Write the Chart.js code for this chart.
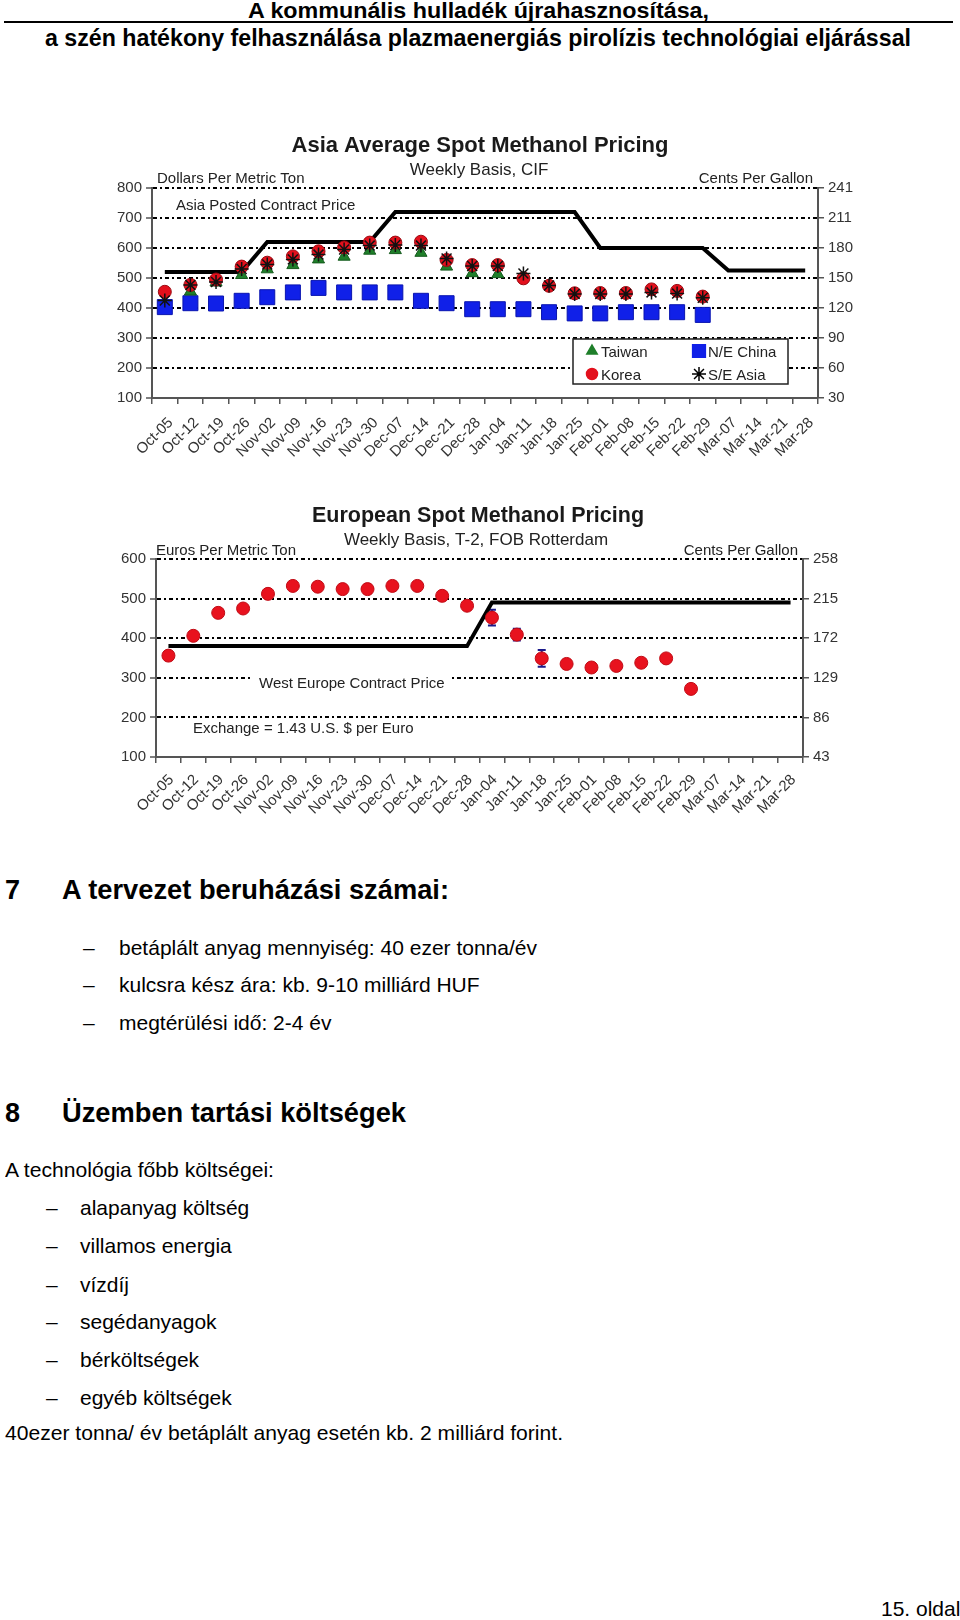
<!DOCTYPE html>
<html>
<head>
<meta charset="utf-8">
<script src="https://cdn.jsdelivr.net/npm/chart.js@4.4.0/dist/chart.umd.min.js"></script>
<style>
  body { margin: 0; width: 960px; height: 1620px; background: #fff; position: relative; overflow: hidden;
         font-family: "Liberation Sans", Arial, sans-serif; color: #000; }
  .t { position: absolute; white-space: nowrap; line-height: 1; transform-origin: 0 0; }
  .hd { font-weight: bold; font-size: 24px; }
  .h2 { font-weight: bold; font-size: 27px; }
  .p { font-size: 21px; }
  #rule { position: absolute; left: 4px; top: 21px; width: 949px; height: 2px; background: #000; }
  canvas { position: absolute; }
</style>
</head>
<body>
<div class="t hd" data-w="461" style="left:248px; top:0px; font-size:22px">A kommunális hulladék újrahasznosítása,</div>
<div id="rule"></div>
<div class="t hd" data-w="866" style="left:45px; top:26px">a szén hatékony felhasználása plazmaenergiás pirolízis technológiai eljárással</div>

<canvas id="asia" width="790" height="340" style="left:90px; top:120px"></canvas>
<canvas id="europe" width="790" height="340" style="left:90px; top:480px"></canvas>

<div class="t h2" style="left:5px; top:877px">7</div>
<div class="t h2" data-w="387" style="left:62px; top:877px">A tervezet beruházási számai:</div>
<div class="t p" style="left:83px; top:937px">–</div>
<div class="t p" data-w="418" style="left:119px; top:937px">betáplált anyag mennyiség: 40 ezer tonna/év</div>
<div class="t p" style="left:83px; top:974px">–</div>
<div class="t p" style="left:119px; top:974px">kulcsra kész ára: kb. 9-10 milliárd HUF</div>
<div class="t p" style="left:83px; top:1012px">–</div>
<div class="t p" style="left:119px; top:1012px">megtérülési idő: 2-4 év</div>

<div class="t h2" style="left:5px; top:1100px">8</div>
<div class="t h2" data-w="344" style="left:62px; top:1100px">Üzemben tartási költségek</div>
<div class="t p" data-w="269" style="left:5px; top:1159px">A technológia főbb költségei:</div>
<div class="t p" style="left:46px; top:1197px">–</div>
<div class="t p" style="left:80px; top:1197px">alapanyag költség</div>
<div class="t p" style="left:46px; top:1235px">–</div>
<div class="t p" style="left:80px; top:1235px">villamos energia</div>
<div class="t p" style="left:46px; top:1274px">–</div>
<div class="t p" style="left:80px; top:1274px">vízdíj</div>
<div class="t p" style="left:46px; top:1311px">–</div>
<div class="t p" style="left:80px; top:1311px">segédanyagok</div>
<div class="t p" style="left:46px; top:1349px">–</div>
<div class="t p" style="left:80px; top:1349px">bérköltségek</div>
<div class="t p" style="left:46px; top:1387px">–</div>
<div class="t p" style="left:80px; top:1387px">egyéb költségek</div>
<div class="t p" data-w="558" style="left:5px; top:1422px">40ezer tonna/ év betáplált anyag esetén kb. 2 milliárd forint.</div>
<div class="t p" style="left:881px; top:1598px">15. oldal</div>

<script>
const weeks = ["Oct-05", "Oct-12", "Oct-19", "Oct-26", "Nov-02", "Nov-09", "Nov-16", "Nov-23", "Nov-30",
    "Dec-07", "Dec-14", "Dec-21", "Dec-28", "Jan-04", "Jan-11", "Jan-18", "Jan-25", "Feb-01", "Feb-08",
    "Feb-15", "Feb-22", "Feb-29", "Mar-07", "Mar-14", "Mar-21", "Mar-28"]

// Asia, dollars per metric ton
const asiaContract = [520, 520, 520, 520, 620, 620, 620, 620, 620, 720, 720, 720, 720, 720, 720, 720, 720,
    600, 600, 600, 600, 600, 525, 525, 525, 525]
const taiwan = [null, 455, 485, 510, 529, 543, 562, 571, 591, 593, 584, 538, 516, 513, null, null, null,
    null, null, null, null, null, null, null, null, null]
const korea = [454, 477, 495, 538, 551, 572, 589, 602, 618, 618, 621, 560, 543, 543, 499, 474, 449, 450,
    450, 462, 457, 438, null, null, null, null]
const neChina = [403, 416, 415, 424, 436, 452, 467, 452, 452, 452, 424, 416, 396, 396, 396, 386, 382, 382,
    386, 386, 386, 377, null, null, null, null]
const seAsia = [425, 477, 487, 530, 545, 562, 578, 595, 608, 610, 608, 565, 540, 540, 515, 475, 447, 447,
    447, 452, 448, 434, null, null, null, null]
const asiaCents = ["30", "60", "90", "120", "150", "180", "211", "241"]

// Europe, euros per metric ton
const euroContract = [380, 380, 380, 380, 380, 380, 380, 380, 380, 380, 380, 380, 380, 490, 490, 490, 490,
    490, 490, 490, 490, 490, 490, 490, 490, 490]
const euroSpot = [356, 406, 464, 475, 512, 532, 530, 524, 524, 532, 532, 507, 482, 452, 409, 349, 335, 326,
    330, 338, 349, 272, null, null, null, null]
const euroError = [0, 0, 0, 0, 0, 0, 0, 0, 0, 0, 0, 0, 0, 20, 15, 21, 0, 0, 0, 0, 0, 0, 0, 0, 0, 0]
const euroCents = ["43", "86", "129", "172", "215", "258"]

Chart.defaults.font.family = '"Liberation Sans", Arial, sans-serif'
Chart.defaults.color = "#333"

function makeScales(min, max, cents, leftW, rightW, bottomH, labelPad, labelShift) {
    return {
        x: {
            offset: true,
            grid: { offset: true, drawOnChartArea: false, tickLength: 6, color: "#555", lineWidth: 1.5 },
            border: { color: "#555", width: 2 },
            ticks: { autoSkip: false, maxRotation: 45, minRotation: 45, font: { size: 15 },
                padding: labelPad, labelOffset: labelShift },
            afterFit: (s) => { s.height = bottomH }
        },
        y: {
            position: "left", min: min, max: max,
            ticks: { stepSize: 100, font: { size: 15 }, padding: 4 },
            grid: {
                color: (c) => (c.tick && c.tick.value === min ? "rgba(0,0,0,0)" : "#000"),
                lineWidth: 2, tickLength: 6, tickColor: "#555", tickWidth: 1.5
            },
            border: { color: "#555", width: 2, dash: [4, 3, 2, 3] },
            afterFit: (s) => { s.width = leftW }
        },
        y2: {
            position: "right", min: min, max: max,
            ticks: { stepSize: 100, font: { size: 15 }, padding: 4,
                callback: (v) => cents[Math.round((v - min) / 100)] },
            grid: { drawOnChartArea: false, tickLength: 6, color: "#555", lineWidth: 1.5 },
            border: { color: "#555", width: 2 },
            afterFit: (s) => { s.width = rightW }
        }
    }
}

function drawTexts(ctx, items) {
    items.forEach((it) => {
        ctx.font = it.font
        ctx.textAlign = it.align || "left"
        ctx.textBaseline = "alphabetic"
        if (it.clear) {
            const w = ctx.measureText(it.text).width
            ctx.fillStyle = "#fff"
            ctx.fillRect(it.x - 7, it.y - 17, w + 14, 22)
        }
        ctx.fillStyle = it.color || "#222"
        ctx.fillText(it.text, it.x, it.y)
    })
}

const asiaTexts = {
    id: "asiaTexts",
    afterDraw(chart) {
        const ctx = chart.ctx
        const a = chart.chartArea
        ctx.save()
        drawTexts(ctx, [
            { text: "Asia Average Spot Methanol Pricing", x: 390, y: 32, align: "center", font: "bold 22px 'Liberation Sans'", color: "#1a1a1a" },
            { text: "Weekly Basis, CIF", x: 389, y: 55, align: "center", font: "17px 'Liberation Sans'" },
            { text: "Dollars Per Metric Ton", x: a.left + 5, y: a.top - 5, font: "15px 'Liberation Sans'" },
            { text: "Cents Per Gallon", x: a.right - 5, y: a.top - 5, align: "right", font: "15px 'Liberation Sans'" },
            { text: "Asia Posted Contract Price", x: a.left + 24, y: a.top + 22, font: "15px 'Liberation Sans'" }
        ])
        // legend box
        const bx = a.left + 421, by = a.top + 151, bw = 215, bh = 45
        ctx.fillStyle = "#fff"
        ctx.fillRect(bx, by, bw, bh)
        ctx.strokeStyle = "#222"
        ctx.lineWidth = 1.5
        ctx.strokeRect(bx, by, bw, bh)
        const entries = [
            { label: "Taiwan", style: "triangle", r: 6, fill: "#1f7f2a", stroke: "#1f7f2a", x: bx + 19, y: by + 12 },
            { label: "Korea", style: "circle", r: 5.5, fill: "#e3101c", stroke: "#e3101c", x: bx + 19, y: by + 35 },
            { label: "N/E China", style: "rect", r: 9, fill: "#1020e8", stroke: "#1020e8", x: bx + 126, y: by + 12 },
            { label: "S/E Asia", style: "star", r: 7, fill: "#000", stroke: "#000", x: bx + 126, y: by + 35 }
        ]
        entries.forEach((e) => {
            ctx.fillStyle = e.fill
            ctx.strokeStyle = e.stroke
            ctx.lineWidth = 1.5
            Chart.helpers.drawPoint(ctx, { pointStyle: e.style, radius: e.r, rotation: 0, borderWidth: 1.5 }, e.x, e.y)
            ctx.fillStyle = "#222"
            ctx.font = "15px 'Liberation Sans'"
            ctx.textAlign = "left"
            ctx.fillText(e.label, e.x + 9, e.y + 6)
        })
        ctx.restore()
    }
}

new Chart(document.getElementById("asia"), {
    type: "line",
    data: {
        labels: weeks,
        datasets: [
            { label: "S/E Asia", data: seAsia, showLine: false, pointStyle: "star", pointRadius: 7,
              borderColor: "#111", pointBorderWidth: 1.5, order: 0 },
            { label: "Korea", data: korea, showLine: false, pointStyle: "circle", pointRadius: 6.5,
              backgroundColor: "#e3101c", borderColor: "#9a0a12", pointBorderWidth: 1, order: 1 },
            { label: "Taiwan", data: taiwan, showLine: false, pointStyle: "triangle", pointRadius: 7,
              backgroundColor: "#1f7f2a", borderColor: "#145a1c", pointBorderWidth: 1, order: 2 },
            { label: "N/E China", data: neChina, showLine: false, pointStyle: "rect", pointRadius: 10.6,
              backgroundColor: "#1020e8", borderColor: "#0a15b0", pointBorderWidth: 1, order: 3 },
            { label: "Asia Posted Contract Price", data: asiaContract, borderColor: "#000", borderWidth: 4,
              pointRadius: 0, tension: 0, order: 4 }
        ]
    },
    options: {
        responsive: false,
        animation: false,
        layout: { padding: { top: 68, left: 0, right: 0, bottom: 0 } },
        plugins: { legend: { display: false }, tooltip: { enabled: false } },
        scales: makeScales(100, 800, asiaCents, 62, 62, 62, 10, 6)
    },
    plugins: [asiaTexts]
})

const europeTexts = {
    id: "europeTexts",
    beforeDatasetsDraw(chart) {
        // error bars
        const ctx = chart.ctx
        const x = chart.scales.x, y = chart.scales.y
        ctx.save()
        ctx.strokeStyle = "#1a1a8a"
        ctx.lineWidth = 2
        euroError.forEach((err, i) => {
            if (!err || euroSpot[i] == null) return
            const px = x.getPixelForValue(i)
            const top = y.getPixelForValue(euroSpot[i] + err)
            const bot = y.getPixelForValue(euroSpot[i] - err)
            ctx.beginPath()
            ctx.moveTo(px, top); ctx.lineTo(px, bot)
            ctx.moveTo(px - 4, top); ctx.lineTo(px + 4, top)
            ctx.moveTo(px - 4, bot); ctx.lineTo(px + 4, bot)
            ctx.stroke()
        })
        ctx.restore()
    },
    afterDraw(chart) {
        const ctx = chart.ctx
        const a = chart.chartArea
        ctx.save()
        drawTexts(ctx, [
            { text: "European Spot Methanol Pricing", x: 388, y: 42, align: "center", font: "bold 21.5px 'Liberation Sans'", color: "#1a1a1a" },
            { text: "Weekly Basis, T-2, FOB Rotterdam", x: 386, y: 65, align: "center", font: "17px 'Liberation Sans'" },
            { text: "Euros Per Metric Ton", x: a.left, y: a.top - 4, font: "15px 'Liberation Sans'" },
            { text: "Cents Per Gallon", x: a.right - 5, y: a.top - 4, align: "right", font: "15px 'Liberation Sans'" },
            { text: "West Europe Contract Price", x: a.left + 103, y: a.top + 129, font: "15px 'Liberation Sans'", clear: true },
            { text: "Exchange = 1.43 U.S. $ per Euro", x: a.left + 37, y: a.top + 174, font: "15px 'Liberation Sans'" }
        ])
        ctx.restore()
    }
}

new Chart(document.getElementById("europe"), {
    type: "line",
    data: {
        labels: weeks,
        datasets: [
            { label: "Spot", data: euroSpot, showLine: false, pointStyle: "circle", pointRadius: 6.5,
              backgroundColor: "#e8121e", borderColor: "#c00a14", pointBorderWidth: 1, order: 0 },
            { label: "West Europe Contract Price", data: euroContract, borderColor: "#000", borderWidth: 4,
              pointRadius: 0, tension: 0, order: 1 }
        ]
    },
    options: {
        responsive: false,
        animation: false,
        layout: { padding: { top: 79, left: 0, right: 0, bottom: 0 } },
        plugins: { legend: { display: false }, tooltip: { enabled: false } },
        scales: makeScales(100, 600, euroCents, 66, 77, 63, 8, 3)
    },
    plugins: [europeTexts]
})

// squeeze text lines to the widths they have on the page
document.querySelectorAll("[data-w]").forEach((el) => {
    const w = el.getBoundingClientRect().width
    el.style.transform = "scaleX(" + (Number(el.dataset.w) / w) + ")"
})
</script>
</body>
</html>
